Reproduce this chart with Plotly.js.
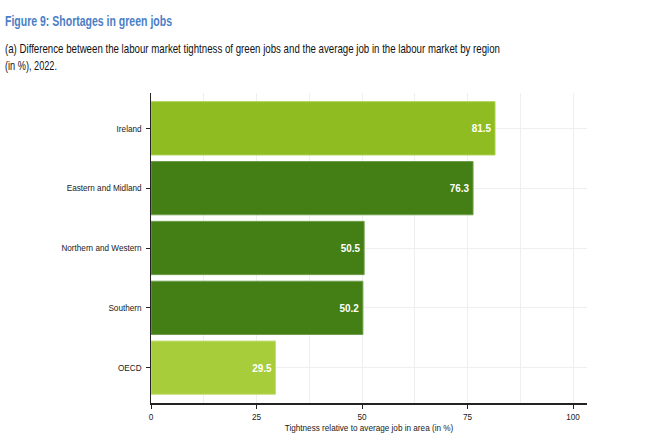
<!DOCTYPE html>
<html>
<head>
<meta charset="utf-8">
<script src="https://cdn.plot.ly/plotly-3.0.1.min.js"></script>
<style>html,body{margin:0;padding:0;background:#fff;}#chart{width:647px;height:446px;}</style>
</head>
<body>
<div id="chart"></div>
<script>
const categories = ["Ireland", "Eastern and Midland", "Northern and Western", "Southern", "OECD"];
const values = [81.5, 76.3, 50.5, 50.2, 29.5];
const barColors = ["#8fbd21", "#437f15", "#437f15", "#437f15", "#a8cd3b"];
const edgeColors = ["#a9d04e", "#6e9f4c", "#6e9f4c", "#6e9f4c", "#c4df7a"];
const xTicks = [0, 25, 50, 75, 100];

const FONT = 'Arial, "Liberation Sans", sans-serif';

const trace = {
  type: 'bar',
  orientation: 'h',
  x: values,
  y: categories,
  marker: {color: barColors, line: {color: edgeColors, width: 1}},
  texttemplate: '%{x:.1f}',
  textposition: 'inside',
  insidetextanchor: 'end',
  textangle: 0,
  textfont: {family: FONT, size: 11, color: '#ffffff', weight: 'bold'},
  cliponaxis: false,
  hoverinfo: 'skip'
};

const plotTop = 93, plotH = 309.7, plotL = 151, plotW = 435.7;
const py = (p) => (plotTop + plotH - p) / plotH;   // pixel-from-top -> paper y
const px = (x) => (x - plotL) / plotW;             // pixel-from-left -> paper x

const layout = {
  width: 647, height: 446,
  margin: {l: 151, r: 60, t: 93, b: 43},
  paper_bgcolor: '#ffffff', plot_bgcolor: '#ffffff',
  showlegend: false,
  bargap: 0.11,
  font: {family: FONT, size: 9, color: '#1a1a1a'},
  xaxis: {
    range: [0, 103.3],
    tickvals: xTicks,
    ticktext: xTicks.map(String),
    showgrid: true, gridcolor: '#efefef', gridwidth: 1,
    minor: {dtick: 12.5, tick0: 0, showgrid: true, gridcolor: '#efefef', gridwidth: 1, ticks: ''},
    zeroline: false,
    showline: true, linecolor: '#222222', linewidth: 1.5,
    ticks: 'outside', ticklen: 4, tickcolor: '#222222', tickwidth: 1,
    tickfont: {family: FONT, size: 9.5, color: '#1a1a1a'},
    title: {text: 'Tightness relative to average job in area (in %)', font: {family: FONT, size: 9.5, color: '#1a1a1a'}, standoff: 2},
    fixedrange: true
  },
  yaxis: {
    type: 'category',
    range: [4.59, -0.59],
    showgrid: true, gridcolor: '#efefef', gridwidth: 1,
    zeroline: false,
    showline: true, linecolor: '#222222', linewidth: 1.5,
    ticks: 'outside', ticklen: 4, tickcolor: '#222222', tickwidth: 1,
    tickfont: {family: FONT, size: 9.5, color: '#1a1a1a'},
    ticklabelstandoff: 2,
    fixedrange: true
  },
  annotations: [
    {
      text: '<b>Figure 9: Shortages in green jobs</b>',
      xref: 'paper', yref: 'paper', x: px(3), y: py(21), xanchor: 'left', yanchor: 'middle',
      showarrow: false, align: 'left',
      font: {family: FONT, size: 14, color: '#4a7ec6'}
    },
    {
      text: '(a) Difference between the labour market tightness of green jobs and the average job in the labour market by region',
      xref: 'paper', yref: 'paper', x: px(3), y: py(49.5), xanchor: 'left', yanchor: 'middle',
      showarrow: false, align: 'left',
      font: {family: FONT, size: 12.2, color: '#111111'}
    },
    {
      text: '(in %), 2022.',
      xref: 'paper', yref: 'paper', x: px(3), y: py(66.5), xanchor: 'left', yanchor: 'middle',
      showarrow: false, align: 'left',
      font: {family: FONT, size: 12.2, color: '#111111'}
    }
  ]
};

// Narrow-font look: compress text horizontally (Arial Narrow is not installed).
const annWidths = [167, 495, 52];
function condense(el, target, factor) {
  const w = el.getComputedTextLength();
  const t = target != null ? target : w * factor;
  el.setAttribute('textLength', t.toFixed(1));
  el.setAttribute('lengthAdjust', 'spacingAndGlyphs');
}

Plotly.newPlot('chart', [trace], layout, {displayModeBar: false, staticPlot: true}).then(function (gd) {
  gd.querySelectorAll('.annotation-text').forEach(function (el, i) { condense(el, annWidths[i]); });
  gd.querySelectorAll('.ytick text, .xtick text, .xtitle').forEach(function (el) { condense(el, null, 0.86); });
  gd.querySelectorAll('.bartext text, text.bartext').forEach(function (el) { condense(el, null, 0.9); });
});
</script>
</body>
</html>
